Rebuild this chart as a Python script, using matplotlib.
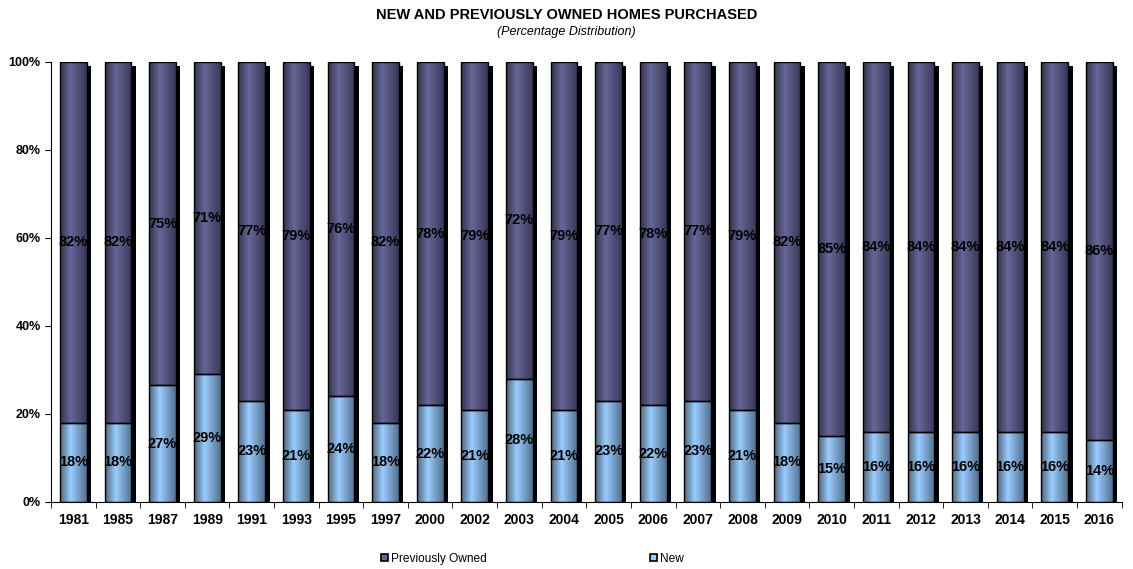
import numpy as np
import matplotlib
matplotlib.use("Agg")
import matplotlib.pyplot as plt
from matplotlib.patches import Rectangle, Patch
from matplotlib.ticker import FixedLocator, PercentFormatter

plt.rcParams['font.family'] = ['Liberation Sans', 'DejaVu Sans']

years = ['1981', '1985', '1987', '1989', '1991', '1993', '1995', '1997', '2000',
         '2002', '2003', '2004', '2005', '2006', '2007', '2008', '2009', '2010',
         '2011', '2012', '2013', '2014', '2015', '2016']
new = [18, 18, 27, 29, 23, 21, 24, 18, 22, 21, 28, 21, 23, 22, 23, 21, 18, 15,
       16, 16, 16, 16, 16, 14]
prev_owned = [82, 82, 75, 71, 77, 79, 76, 82, 78, 79, 72, 79, 77, 78, 77, 79, 82,
              85, 84, 84, 84, 84, 84, 86]

new_col = np.array([0x99, 0xcc, 0xff]) / 255
prev_col = np.array([0x66, 0x66, 0x99]) / 255


def shade(base, n=64):
    # cylinder-ish shading across the bar: dark edges, bright just left of centre
    t = np.linspace(0, 1, n)
    f = np.interp(t, [0, 0.4, 1], [0.5, 1.0, 0.55])
    return (base[None, :] * f[:, None])[None, :, :]


def draw_segment(ax, x, y0, y1, w, base):
    ax.imshow(shade(base), extent=(x - w / 2, x + w / 2, y0, y1), aspect='auto',
              interpolation='bilinear', zorder=3)
    ax.add_patch(Rectangle((x - w / 2, y0), w, y1 - y0, fill=False, ec='black',
                           lw=1.0, zorder=4))


fig = plt.figure(figsize=(11.33, 5.69), dpi=100)
ax = fig.add_axes([0.045, 0.1178, 0.945, 0.7733])

w = 0.6
xs = np.arange(len(years))
for x, n, p in zip(xs, new, prev_owned):
    total = n + p
    n_pct = n / total * 100
    # drop shadow behind the bar
    ax.add_patch(Rectangle((x - w / 2 + 0.1, -1), w, 100, fc='black', ec='none',
                           zorder=2))
    draw_segment(ax, x, 0, n_pct, w, new_col)
    draw_segment(ax, x, n_pct, 100, w, prev_col)
    ax.text(x, n_pct / 2, f'{n}%', ha='center', va='center', fontsize=10.5,
            fontweight='bold', zorder=5)
    ax.text(x, (n_pct + 100) / 2, f'{p}%', ha='center', va='center', fontsize=10.5,
            fontweight='bold', zorder=5)

ax.set_xlim(-0.5, len(years) - 0.5)
ax.set_ylim(0, 100)
ax.set_xticks(xs)
ax.set_xticklabels(years, fontweight='bold', fontsize=10)
ax.xaxis.set_minor_locator(FixedLocator(np.arange(len(years) + 1) - 0.5))
ax.tick_params(axis='x', which='major', length=0, pad=8)
ax.tick_params(axis='x', which='minor', length=4, direction='out')
ax.set_yticks(np.arange(0, 101, 20))
ax.yaxis.set_major_formatter(PercentFormatter(decimals=0))
ax.tick_params(axis='y', length=4, direction='out', labelsize=9)
for lbl in ax.get_yticklabels():
    lbl.set_fontweight('bold')
for s in ['top', 'right']:
    ax.spines[s].set_visible(False)
ax.spines['left'].set_zorder(6)
ax.spines['bottom'].set_zorder(6)

fig.text(0.5, 0.974, 'NEW AND PREVIOUSLY OWNED HOMES PURCHASED', ha='center',
         va='center', fontsize=10.5, fontweight='bold')
fig.text(0.5, 0.944, '(Percentage Distribution)', ha='center', va='center',
         fontsize=9, style='italic')

handles = [Patch(fc=prev_col, ec='black', lw=1.2), Patch(fc=new_col, ec='black', lw=1.2)]
fig.legend(handles, ['Previously Owned', 'New'], loc='center', ncol=2,
           bbox_to_anchor=(0.47, 0.018), frameon=False, fontsize=8.6,
           handlelength=0.6, handleheight=0.6, handletextpad=0.2,
           columnspacing=13.7)

fig.savefig('out.png', dpi=100)
